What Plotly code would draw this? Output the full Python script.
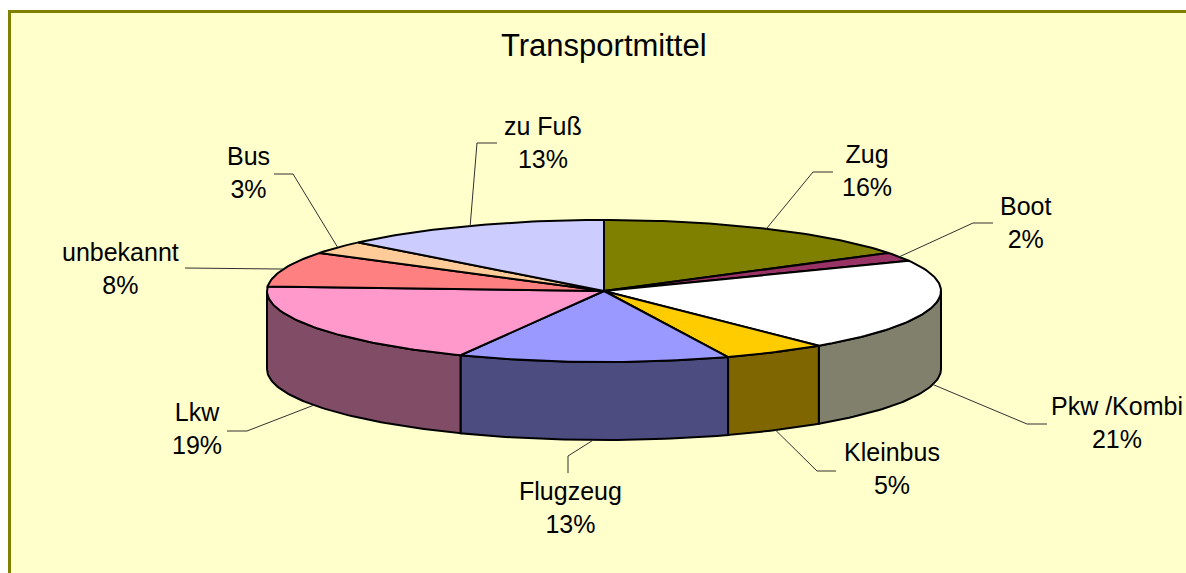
import math
import plotly.graph_objects as go

# Transport modes, clockwise from 12 o'clock
categories = ["Zug", "Boot", "Pkw /Kombi", "Kleinbus", "Flugzeug", "Lkw", "unbekannt", "Bus", "zu Fuß"]
shares = [16, 2, 21, 5, 13, 19, 8, 3, 13]
top_colors = ["#808000", "#993366", "#FFFFFF", "#FFCC00", "#9999FF",
              "#FF99CC", "#FF8080", "#FFCC99", "#CCCCFF"]
side_colors = ["#404000", "#4C1933", "#80806C", "#806600", "#4C4C80",
               "#804C66", "#804040", "#80664C", "#666680"]

# label text centre, leader elbow and end of the short tick for each slice
label_xy = [(867, 170), (1025, 222), (1117, 422), (892, 468), (570, 507),
            (197, 428), (120, 268), (248, 172), (543, 142)]
elbow_xy = [(813, 172), (973, 223), (1027, 424), (817, 471), (568, 456),
            (247, 431), (205, 268), (293, 174), (477, 143)]
tick_xy = [(833, 172), (993, 223), (1047, 424), (836, 471), (568, 473),
           (227, 431), (185, 268), (274, 174), (497, 143)]

W, H = 1186, 573
CX, CY = 604, 291      # centre of the top face
RX, RY = 337, 71       # ellipse radii of the tilted disc
DEPTH = 78             # thickness of the disc


def pt(deg, dy=0.0):
    t = math.radians(deg)
    return CX + RX * math.sin(t), CY - RY * math.cos(t) + dy


def arc(a0, a1, dy=0.0, step=1.0):
    n = max(2, int(abs(a1 - a0) / step) + 1)
    return [pt(a0 + (a1 - a0) * i / (n - 1), dy) for i in range(n)]


total = sum(shares)
bounds = []
acc = 0.0
for v in shares:
    a0 = acc / total * 360
    acc += v
    bounds.append((a0, acc / total * 360))

fig = go.Figure()

# front wall of the disc (only the part between 90° and 270° faces the viewer)
for (a0, a1), col in zip(bounds, side_colors):
    lo, hi = max(a0, 90), min(a1, 270)
    if hi <= lo:
        continue
    pts = arc(lo, hi) + arc(hi, lo, DEPTH)
    pts.append(pts[0])
    fig.add_trace(go.Scatter(
        x=[p[0] for p in pts], y=[p[1] for p in pts],
        mode="lines", fill="toself", fillcolor=col,
        line=dict(color="black", width=2), hoverinfo="skip", showlegend=False))

# top face wedges
for (a0, a1), col in zip(bounds, top_colors):
    pts = [(CX, CY)] + arc(a0, a1) + [(CX, CY)]
    fig.add_trace(go.Scatter(
        x=[p[0] for p in pts], y=[p[1] for p in pts],
        mode="lines", fill="toself", fillcolor=col,
        line=dict(color="black", width=2), hoverinfo="skip", showlegend=False))

# leader lines and labels
annotations = []
for (a0, a1), name, v, lab, elb, tk in zip(bounds, categories, shares,
                                           label_xy, elbow_xy, tick_xy):
    mid = (a0 + a1) / 2
    dy = DEPTH if 90 < mid < 270 else 0
    ax, ay = pt(mid, dy)
    fig.add_trace(go.Scatter(
        x=[ax, elb[0], tk[0]], y=[ay, elb[1], tk[1]],
        mode="lines", line=dict(color="#303030", width=1),
        hoverinfo="skip", showlegend=False))
    annotations.append(dict(
        x=lab[0], y=lab[1], xref="x", yref="y",
        text=f"{name}<br>{v}%", showarrow=False,
        xanchor="center", yanchor="middle", align="center",
        font=dict(family="Liberation Sans, Arial, sans-serif", size=25, color="black")))

annotations.append(dict(
    x=604, y=45, xref="x", yref="y", text="Transportmittel", showarrow=False,
    xanchor="center", yanchor="middle",
    font=dict(family="Liberation Sans, Arial, sans-serif", size=31, color="black")))

fig.update_layout(
    width=W, height=H,
    margin=dict(l=0, r=0, t=0, b=0),
    paper_bgcolor="white", plot_bgcolor="white",
    xaxis=dict(range=[0, W], visible=False, fixedrange=True),
    yaxis=dict(range=[H, 0], visible=False, fixedrange=True),
    annotations=annotations,
    shapes=[dict(type="rect", xref="x", yref="y", x0=9.5, y0=11.5, x1=W + 20, y1=H + 20,
                 fillcolor="#FFFFCC", line=dict(color="#808000", width=3), layer="below")],
    hovermode=False,
)

fig.write_html("out.html")
